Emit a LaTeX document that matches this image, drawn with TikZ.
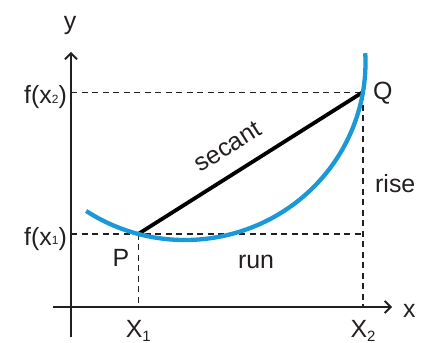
\documentclass[tikz,border=0pt]{standalone}
\usepackage{fontspec}
\setmainfont{Liberation Sans}
\usetikzlibrary{arrows.meta}
\definecolor{curveblue}{RGB}{27,152,214}
\definecolor{ink}{RGB}{35,31,32}
\newcommand{\smallsub}[1]{\raisebox{0.5bp}{\fontsize{12}{12}\selectfont #1}}
\newcommand{\axsub}[1]{\raisebox{-4.5bp}{\fontsize{15}{15}\selectfont #1}}

\begin{document}
\begin{tikzpicture}[x=1bp,y=1bp,>={Straight Barb[length=6bp,width=12bp]},
    lbl/.style={font=\fontsize{25}{28}\selectfont,text=ink,inner sep=0pt},
    axisline/.style={draw=ink,line width=1.8bp,->},
    guide/.style={draw=ink,line width=1.1bp,dash pattern=on 6bp off 4.5bp},
    secantline/.style={draw=black,line width=3.8bp},
    curveline/.style={draw=curveblue,line width=4.3bp}]
            \useasboundingbox (0,0) rectangle (421,343);
            \coordinate (O) at (71,36);
            \coordinate (ybot) at (71,6);
            \coordinate (ytop) at (71,291);
            \coordinate (xleft) at (53,36);
            \coordinate (xright) at (392,36);
            \coordinate (C) at (185,280.5);
            \path (C) ++(255:180.5 and 177.5) coordinate (P);
            \path (C) ++(350.4:180.5 and 177.5) coordinate (Q);
            \coordinate (X1) at (P |- O);
            \coordinate (X2) at (Q |- O);
            \coordinate (FX1) at (O |- P);
            \coordinate (FX2) at (O |- Q);
            \draw [guide] (FX2) -- (Q) -- (X2);
            \draw [guide] (FX1) -- (P -| Q);
            \draw [guide] (P) -- (X1);
            \draw [axisline] (ybot) -- (ytop);
            \draw [axisline] (xleft) -- (xright);
            \draw [secantline] (P) -- node [lbl,sloped,above=16bp,pos=0.46] (secant) {secant} (Q);
            \draw [curveline] (C) ++(236.8:180.5 and 177.5) arc [start angle=236.8,end angle=363,x radius=180.5bp,y radius=177.5bp];
            \node [lbl] (ylabel) at (70,317.5) {y};
            \node [lbl,anchor=base west] (xlabel) at (403,26) {x};
            \node [lbl,anchor=east] (fx2) at ([xshift=-4bp,yshift=-5bp]FX2) {f(x\smallsub{2})};
            \node [lbl,anchor=east] (fx1) at ([xshift=-4bp,yshift=-5bp]FX1) {f(x\smallsub{1})};
            \node [lbl,anchor=base] (x1label) at ([yshift=-30bp]X1) {X\axsub{1}};
            \node [lbl,anchor=base] (x2label) at ([yshift=-30bp]X2) {X\axsub{2}};
            \node [lbl,anchor=base] (plabel) at (121,77) {P};
            \node [lbl,anchor=base west] (qlabel) at (373,244) {Q};
            \node [lbl,anchor=base west] (rise) at (375,151) {rise};
            \node [lbl,anchor=base] (run) at (256,75) {run};
\end{tikzpicture}
\end{document}
